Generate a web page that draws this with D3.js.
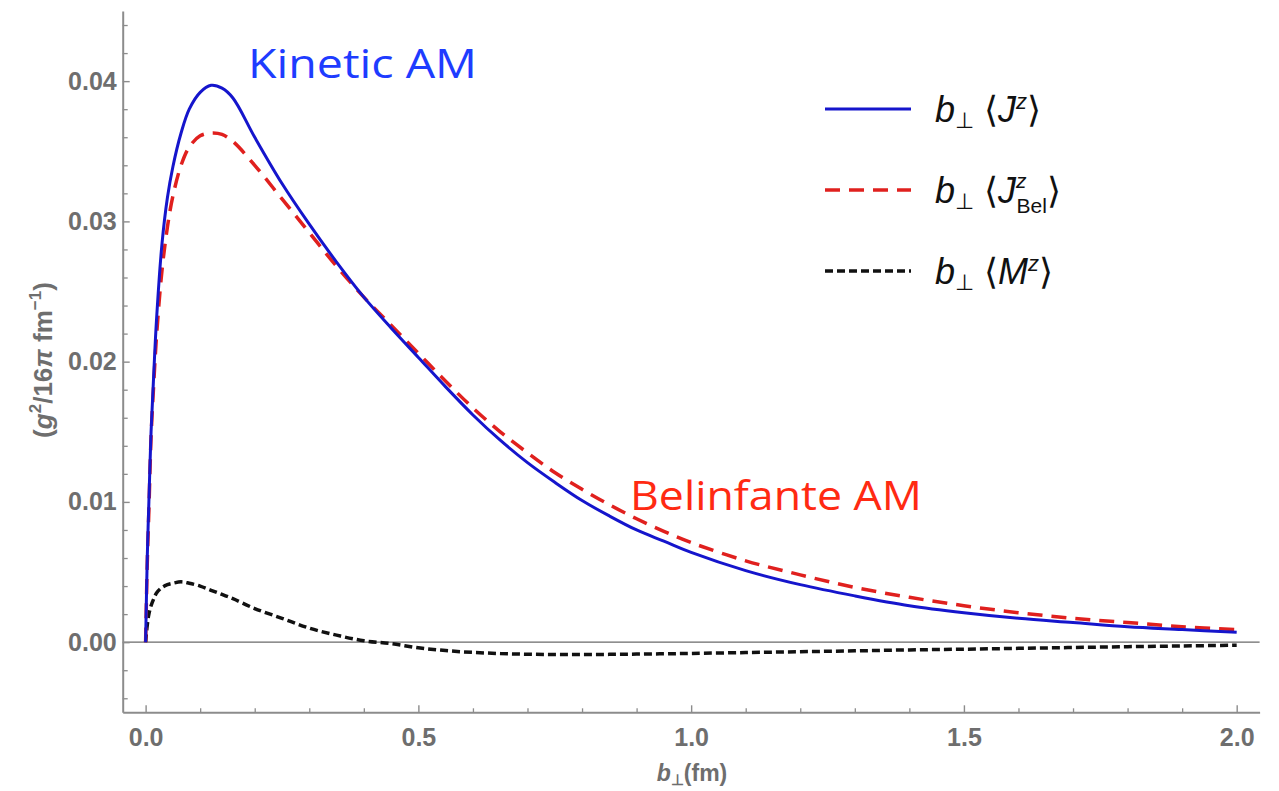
<!DOCTYPE html>
<html>
<head>
<meta charset="utf-8">
<script src="https://cdn.jsdelivr.net/npm/d3@7"></script>
<style>
  body { margin: 0; background: #fff; }
  svg { display: block; }
</style>
</head>
<body>
<div id="chart"></div>
<script>
// b_perp in fm
var bPerp = [0, 0.003, 0.006, 0.01, 0.015, 0.02, 0.03, 0.04, 0.05, 0.065, 0.08, 0.1, 0.12, 0.14, 0.16,
  0.2, 0.25, 0.3, 0.35, 0.4, 0.45, 0.5, 0.55, 0.6, 0.65, 0.7, 0.75, 0.8, 0.85, 0.9, 0.95,
  1.0, 1.1, 1.2, 1.3, 1.4, 1.5, 1.6, 1.7, 1.8, 1.9, 2.0];

// b_perp <J^z>  (kinetic)
var jKin = [0, 0.0060, 0.0100, 0.0150, 0.0192, 0.0230, 0.0284, 0.0317, 0.0339, 0.0363, 0.0380, 0.0392, 0.0397, 0.0395, 0.0388,
  0.0360, 0.0327, 0.0298, 0.0271, 0.0246, 0.0224, 0.0203, 0.0182, 0.0162, 0.0144, 0.0128, 0.0114, 0.0101, 0.0090, 0.0080, 0.0072,
  0.0064, 0.0051, 0.0041, 0.0033, 0.0026, 0.0021, 0.0017, 0.0014, 0.0011, 0.0009, 0.0007];

// b_perp <J^z_Bel>  (Belinfante)
var jBel = [0, 0.0056, 0.0094, 0.0146, 0.0185, 0.0218, 0.0265, 0.0296, 0.0318, 0.0340, 0.0353, 0.0361, 0.0363, 0.0362, 0.0357,
  0.0340, 0.0316, 0.0292, 0.0268, 0.0246, 0.0226, 0.0206, 0.0186, 0.0167, 0.0150, 0.0135, 0.0121, 0.0109, 0.0098, 0.0088, 0.0079,
  0.0071, 0.0058, 0.0048, 0.0039, 0.0032, 0.0026, 0.0021, 0.0017, 0.0014, 0.0011, 0.0009];

// b_perp <M^z>
var mZ = [0, 0.0012, 0.0020, 0.0026, 0.0031, 0.0035, 0.0039, 0.0041, 0.0042, 0.0043, 0.0042, 0.0040, 0.0037, 0.0034, 0.0031,
  0.0024, 0.0017, 0.0010, 0.0005, 0.0001, -0.0001, -0.0004, -0.0006, -0.00073, -0.00081, -0.00086, -0.00088, -0.00088, -0.00087, -0.00085, -0.00083,
  -0.0008, -0.00074, -0.00068, -0.00062, -0.00055, -0.0005, -0.00044, -0.00038, -0.00032, -0.00027, -0.00022];

var xMajor = [0, 0.5, 1.0, 1.5, 2.0];
var yMajor = [0, 0.01, 0.02, 0.03, 0.04];

var W = 1279, H = 791;
var axisColor = "#8c8c8c", labelColor = "#6e6e6e";

var svg = d3.select("#chart").append("svg")
  .attr("width", W)
  .attr("height", H);

var x = d3.scaleLinear().domain([-0.042, 2.042]).range([122.7, 1259.6]);
var y = d3.scaleLinear().domain([-0.005, 0.045]).range([712.3, 11]);

// zero line
svg.append("line")
  .attr("x1", x(-0.042)).attr("x2", x(2.042))
  .attr("y1", y(0)).attr("y2", y(0))
  .attr("stroke", "#6a6a6a").attr("stroke-width", 1.2);

// minor ticks
var xMinor = d3.range(0, 2.001, 0.1).filter(function(v) { return Math.abs(v * 2 - Math.round(v * 2)) > 1e-6; });
var yMinor = d3.range(-0.004, 0.0445, 0.002).filter(function(v) { return Math.abs(v * 100 - Math.round(v * 100)) > 1e-6; });

svg.append("g")
  .attr("transform", "translate(0," + y.range()[0] + ")")
  .call(d3.axisBottom(x).tickValues(xMinor).tickSize(-4).tickFormat(""))
  .call(function(g) { g.select(".domain").remove(); g.selectAll("line").attr("stroke", axisColor).attr("stroke-width", 1.3); });

svg.append("g")
  .attr("transform", "translate(" + x.range()[0] + ",0)")
  .call(d3.axisLeft(y).tickValues(yMinor).tickSize(-5).tickFormat(""))
  .call(function(g) { g.select(".domain").remove(); g.selectAll("line").attr("stroke", axisColor).attr("stroke-width", 1.3); });

// major axes
var xAxis = svg.append("g")
  .attr("transform", "translate(0," + y.range()[0] + ")")
  .call(d3.axisBottom(x).tickValues(xMajor).tickSizeInner(-7).tickSizeOuter(0).tickPadding(16).tickFormat(d3.format(".1f")));

var yAxis = svg.append("g")
  .attr("transform", "translate(" + x.range()[0] + ",0)")
  .call(d3.axisLeft(y).tickValues(yMajor).tickSizeInner(-7).tickSizeOuter(0).tickPadding(6).tickFormat(d3.format(".2f")));

[xAxis, yAxis].forEach(function(g) {
  g.select(".domain").attr("stroke", axisColor).attr("stroke-width", 2);
  g.selectAll(".tick line").attr("stroke", axisColor).attr("stroke-width", 1.4);
  g.selectAll(".tick text")
    .attr("fill", labelColor)
    .attr("font-family", "'Liberation Sans', Arial, sans-serif")
    .attr("font-weight", "bold")
    .attr("font-size", 25);
});
xAxis.selectAll(".tick text").attr("dy", "0.71em");

// axis titles
var yTitle = svg.append("text")
  .attr("transform", "translate(52,360) rotate(-90)")
  .attr("text-anchor", "middle")
  .attr("font-family", "'Liberation Sans', Arial, sans-serif")
  .attr("font-weight", "bold")
  .attr("font-size", 26)
  .attr("fill", labelColor);
yTitle.append("tspan").text("(");
yTitle.append("tspan").attr("font-style", "italic").text("g");
yTitle.append("tspan").attr("font-size", 17).attr("dy", -11).text("2");
yTitle.append("tspan").attr("dy", 11).text("/16");
yTitle.append("tspan").attr("font-style", "italic").text("π");
yTitle.append("tspan").text(" fm");
yTitle.append("tspan").attr("font-size", 17).attr("dy", -11).text("−1");
yTitle.append("tspan").attr("dy", 11).text(")");

var xTitle = svg.append("text")
  .attr("x", 692).attr("y", 781)
  .attr("text-anchor", "middle")
  .attr("font-family", "'Liberation Sans', Arial, sans-serif")
  .attr("font-weight", "bold")
  .attr("font-size", 23)
  .attr("fill", labelColor);
xTitle.append("tspan").attr("font-style", "italic").text("b");
xTitle.append("tspan").attr("font-size", 15).attr("dy", 4).text("⊥");
xTitle.append("tspan").attr("dy", -4).text("(fm)");

// curves
var series = [
  { name: "J", values: jKin, color: "#1515cc", width: 3, dash: null },
  { name: "JBel", values: jBel, color: "#e0201e", width: 3.5, dash: "15,9" },
  { name: "M", values: mZ, color: "#111111", width: 3.5, dash: "8,4" }
];

var line = d3.line()
  .x(function(d) { return x(d[0]); })
  .y(function(d) { return y(d[1]); })
  .curve(d3.curveCatmullRom.alpha(0.5));

svg.selectAll(".curve")
  .data(series.slice().reverse())
  .enter()
  .append("path")
  .attr("class", "curve")
  .attr("d", function(s) { return line(bPerp.map(function(b, i) { return [b, s.values[i]]; })); })
  .attr("fill", "none")
  .attr("stroke", function(s) { return s.color; })
  .attr("stroke-width", function(s) { return s.width; })
  .attr("stroke-dasharray", function(s) { return s.dash; })
  .attr("stroke-linejoin", "round");

// legend
var legend = svg.append("g").attr("transform", "translate(825,109)");
var rowGap = 81;
series.forEach(function(s, i) {
  var row = legend.append("g").attr("transform", "translate(0," + (i * rowGap) + ")");
  row.append("line")
    .attr("x1", 0).attr("x2", 86)
    .attr("stroke", s.color)
    .attr("stroke-width", s.width)
    .attr("stroke-dasharray", s.dash);
  var t = row.append("text")
    .attr("x", 110).attr("y", 13)
    .attr("font-family", "'Liberation Sans', Arial, sans-serif")
    .attr("font-size", 36)
    .attr("fill", "#111");
  t.append("tspan").attr("font-style", "italic").text("b");
  t.append("tspan").attr("font-size", 22).attr("dy", 6).text("⊥");
  t.append("tspan").attr("dy", -6).text("  ⟨");
  t.append("tspan").attr("font-style", "italic").text(s.name === "M" ? "M" : "J");
  if (s.name === "JBel") {
    t.append("tspan").attr("font-style", "italic").attr("font-size", 21).attr("dy", -15).text("z");
    t.append("tspan").attr("font-size", 21).attr("dx", -10).attr("dy", 25).text("Bel");
    t.append("tspan").attr("dy", -10).text("⟩");
  } else {
    t.append("tspan").attr("font-style", "italic").attr("font-size", 22).attr("dy", -13).text("z");
    t.append("tspan").attr("dy", 13).text("⟩");
  }
});

// annotations
svg.append("text")
  .attr("x", 248).attr("y", 78)
  .attr("font-family", "'Open Sans', Lato, sans-serif")
  .attr("font-size", 41)
  .attr("textLength", 229)
  .attr("lengthAdjust", "spacingAndGlyphs")
  .attr("fill", "#1e3cff")
  .text("Kinetic AM");

svg.append("text")
  .attr("x", 630).attr("y", 510)
  .attr("font-family", "'Open Sans', Lato, sans-serif")
  .attr("font-size", 41)
  .attr("textLength", 292)
  .attr("lengthAdjust", "spacingAndGlyphs")
  .attr("fill", "#ff2a12")
  .text("Belinfante AM");
</script>
</body>
</html>
